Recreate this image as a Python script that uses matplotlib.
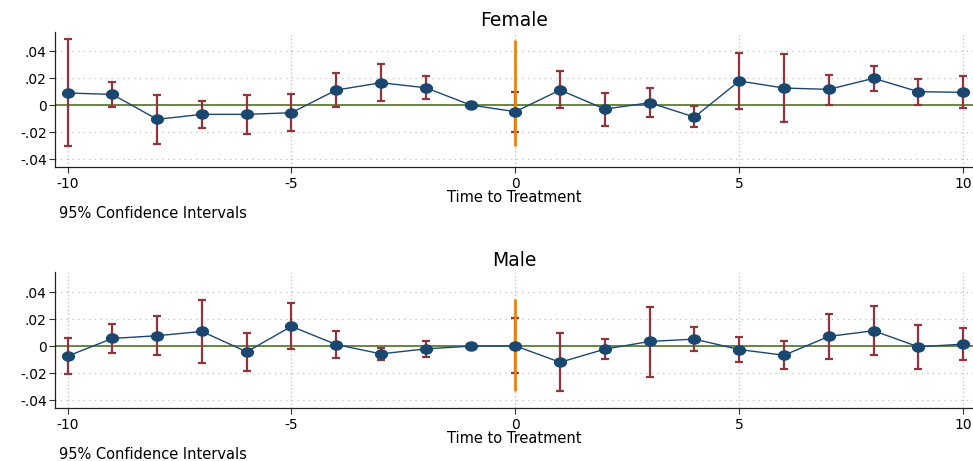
import matplotlib
matplotlib.use('Agg')
import matplotlib.pyplot as plt
import numpy as np
from matplotlib.path import Path
from matplotlib.transforms import Affine2D

plt.rcParams.update({
    'font.family': ['DejaVu Sans'],
    'figure.facecolor': 'white',
    'axes.facecolor': 'white',
})

NAVY = '#1a476f'
MAROON = '#90353b'
GREEN = '#5d7d35'
ORANGE = '#e8830c'
GRID = '#bdbdbd'

# event time
periods = list(range(-10, 11))

# Female estimates and 95% CI (reference period -1 has no interval)
female_coef = [0.0089, 0.0079, -0.0106, -0.0069, -0.0069, -0.0057, 0.0111, 0.0165, 0.0128, 0.0,
               -0.0049, 0.0111, -0.0030, 0.0017, -0.0089, 0.0178, 0.0126, 0.0116, 0.0198, 0.0099, 0.0094]
female_hi = [0.0487, 0.0173, 0.0072, 0.0032, 0.0077, 0.0081, 0.0235, 0.0304, 0.0212, np.nan,
             0.0099, 0.0252, 0.0091, 0.0126, -0.0010, 0.0388, 0.0378, 0.0225, 0.0291, 0.0193, 0.0212]
female_lo = [-0.0304, -0.0012, -0.0286, -0.0170, -0.0215, -0.0190, -0.0012, 0.0027, 0.0044, np.nan,
             -0.0202, -0.0025, -0.0153, -0.0091, -0.0165, -0.0027, -0.0126, 0.0002, 0.0104, 0.0002, -0.0025]
female_treat = (0.0480, -0.0304)

# Male estimates and 95% CI
male_coef = [-0.0074, 0.0057, 0.0077, 0.0109, -0.0042, 0.0146, 0.0012, -0.0057, -0.0020, 0.0,
             0.0002, -0.0119, -0.0022, 0.0035, 0.0052, -0.0025, -0.0067, 0.0072, 0.0114, -0.0005, 0.0015]
male_hi = [0.0057, 0.0165, 0.0222, 0.0343, 0.0099, 0.0316, 0.0114, -0.0010, 0.0037, np.nan,
           0.0210, 0.0096, 0.0054, 0.0291, 0.0138, 0.0069, 0.0035, 0.0240, 0.0296, 0.0160, 0.0131]
male_lo = [-0.0207, -0.0049, -0.0069, -0.0126, -0.0185, -0.0022, -0.0086, -0.0101, -0.0077, np.nan,
           -0.0202, -0.0333, -0.0096, -0.0225, -0.0035, -0.0114, -0.0168, -0.0094, -0.0069, -0.0170, -0.0101]
male_treat = (0.0346, -0.0333)

y_ticks = [-0.04, -0.02, 0, 0.02, 0.04]
y_ticklabels = ['-.04', '-.02', '0', '.02', '.04']
x_ticks = [-10, -5, 0, 5, 10]

# slightly wide dot marker
circ = Path.unit_circle()
DOT = Path(Affine2D().scale(1.3, 1.0).transform(circ.vertices), circ.codes)

FS = 10.5
TICK_FS = 10


def panel(ax, title, coef, lo, hi, treat):
    x = np.array(periods, dtype=float)
    coef = np.array(coef)
    lo = np.array(lo)
    hi = np.array(hi)

    for yt in y_ticks:
        ax.axhline(yt, color=GRID, lw=0.9, ls=(0, (1, 3.5)), zorder=0)
    for xt in x_ticks:
        ax.axvline(xt, color=GRID, lw=0.9, ls=(0, (1, 2)), zorder=0)

    ax.axhline(0, color=GREEN, lw=1.3, zorder=1)

    ok = ~np.isnan(lo)
    ax.vlines(x[ok], lo[ok], hi[ok], color=MAROON, lw=1.6, zorder=2)
    ax.hlines(np.r_[lo[ok], hi[ok]], np.r_[x[ok], x[ok]] - 0.09,
              np.r_[x[ok], x[ok]] + 0.09, color=MAROON, lw=1.6, zorder=2)

    ax.vlines(0, treat[1], treat[0], color=ORANGE, lw=2.0, zorder=3)

    ax.plot(x, coef, color=NAVY, lw=1.0, zorder=4)
    ax.plot(x, coef, ls='none', marker=DOT, ms=8.5, color=NAVY, mec=NAVY, zorder=5)

    ax.set_xlim(-10.28, 10.22)
    ax.set_xticks(x_ticks)
    ax.set_xticklabels([str(t) for t in x_ticks], fontsize=TICK_FS)
    ax.set_yticks(y_ticks)
    ax.set_yticklabels(y_ticklabels, fontsize=TICK_FS)
    ax.tick_params(axis='both', length=4, width=0.8, color='#333333', pad=2)
    ax.tick_params(axis='x', pad=3)
    for side in ['top', 'right']:
        ax.spines[side].set_visible(False)
    for side in ['left', 'bottom']:
        ax.spines[side].set_linewidth(0.9)
        ax.spines[side].set_color('#222222')

    ax.set_title(title, fontsize=13.5, pad=4)
    ax.set_xlabel('Time to Treatment', fontsize=FS, labelpad=-0.5)


fig = plt.figure(figsize=(9.73, 4.61), dpi=100)

ax1 = fig.add_axes([55 / 973, 1 - 167 / 461, 1 - 55 / 973, 135 / 461])
ax1.set_ylim(-0.0459, 0.0541)
panel(ax1, 'Female', female_coef, female_lo, female_hi, female_treat)

ax2 = fig.add_axes([55 / 973, 1 - 408 / 461, 1 - 55 / 973, 136 / 461])
ax2.set_ylim(-0.0457, 0.0548)
panel(ax2, 'Male', male_coef, male_lo, male_hi, male_treat)

# notes below each panel
for ypix in [214, 454]:
    fig.text(59 / 973, 1 - ypix / 461, '95% Confidence Intervals', fontsize=FS,
             ha='left', va='center')

fig.savefig('out.png', dpi=100)
